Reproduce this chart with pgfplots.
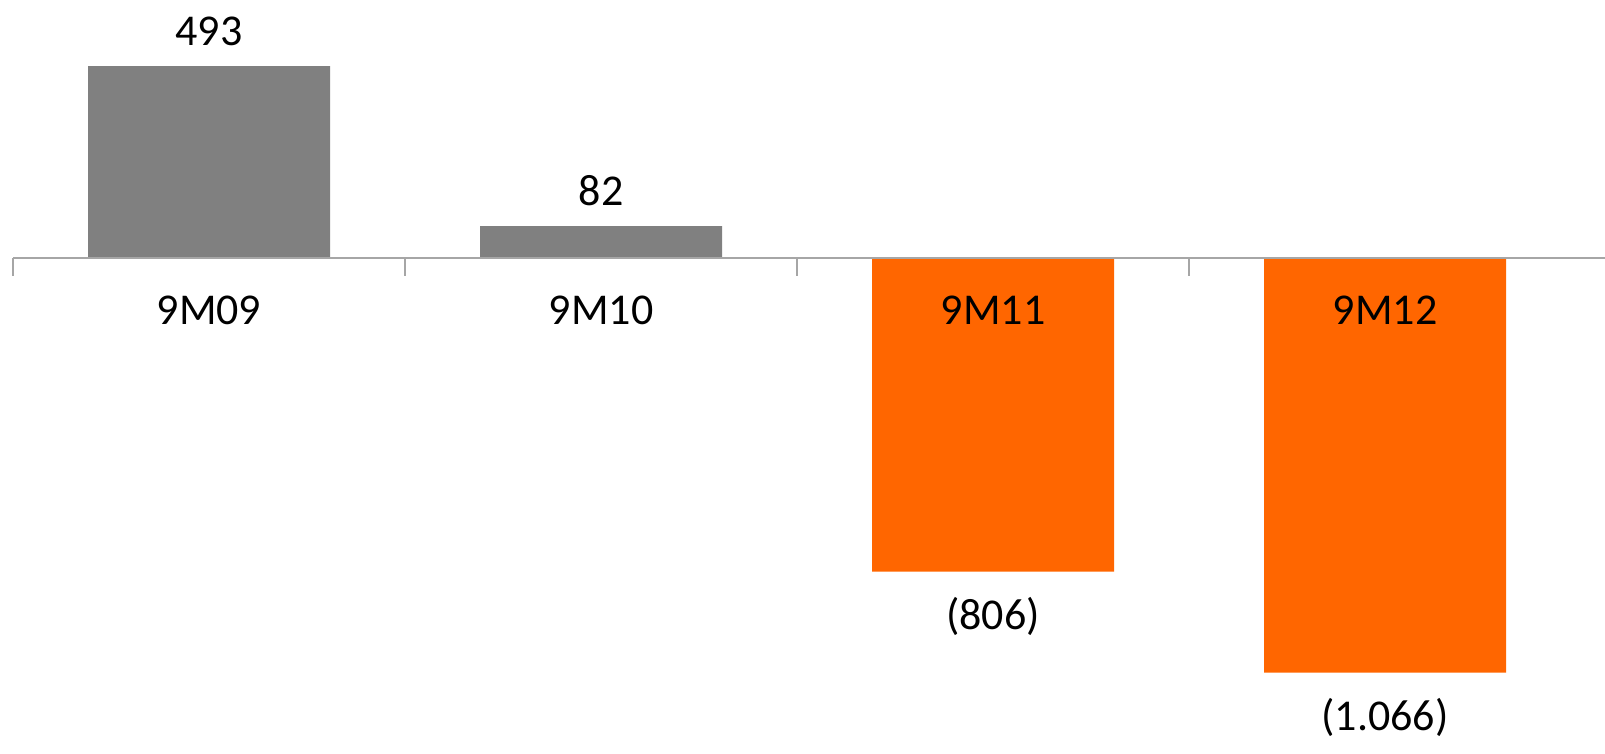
\documentclass[border=0pt]{standalone}
\usepackage{fontspec}
\setmainfont{Carlito}
\usepackage{pgfplots}
\pgfplotsset{compat=1.18}
\definecolor{bargray}{HTML}{808080}
\definecolor{barorange}{HTML}{FF6600}
\definecolor{axisgray}{HTML}{A6A6A6}
\begin{document}
\begin{tikzpicture}[font=\fontsize{22}{26}\selectfont]
  \begin{axis}[
    at={(6.5pt,0pt)}, anchor=south west,
    scale only axis,
    width=796pt, height=377pt,
    xmin=-0.5, xmax=3.561,
    ymin=-1275, ymax=663,
    axis x line=middle,
    axis y line=none,
    axis on top,
    axis line style={draw=axisgray, line width=1pt, -},
    xtick={0,1,2,3},
    xticklabels={9M09,9M10,9M11,9M12},
    major tick length=0pt,
    x tick label style={anchor=base, yshift=-33.5pt, font=\fontsize{22}{26}\selectfont},
    ytick=\empty,
    ybar, bar width=121pt, bar shift=0pt,
    clip=false,
    point meta=explicit symbolic,
    nodes near coords,
  ]
    % positive years
    \addplot[fill=bargray, draw=none,
      every node near coord/.append style={anchor=base, yshift=10.5pt, font=\fontsize{22}{26}\selectfont}]
      coordinates {(0,493) [493] (1,82) [82]};
    % negative years
    \addplot[fill=barorange, draw=none,
      every node near coord/.append style={anchor=base, yshift=-29pt, font=\fontsize{22}{26}\selectfont}]
      coordinates {(2,-806) [(806)] (3,-1066) [(1.066)]};
    % category separator ticks
    \draw[axisgray, line width=1pt]
      (axis cs:-0.5,0) -- ([yshift=-9pt]axis cs:-0.5,0)
      (axis cs:0.5,0) -- ([yshift=-9pt]axis cs:0.5,0)
      (axis cs:1.5,0) -- ([yshift=-9pt]axis cs:1.5,0)
      (axis cs:2.5,0) -- ([yshift=-9pt]axis cs:2.5,0);
  \end{axis}
  \pgfresetboundingbox
  \path[use as bounding box] (0,0) rectangle (802.5pt,377pt);
\end{tikzpicture}
\end{document}
